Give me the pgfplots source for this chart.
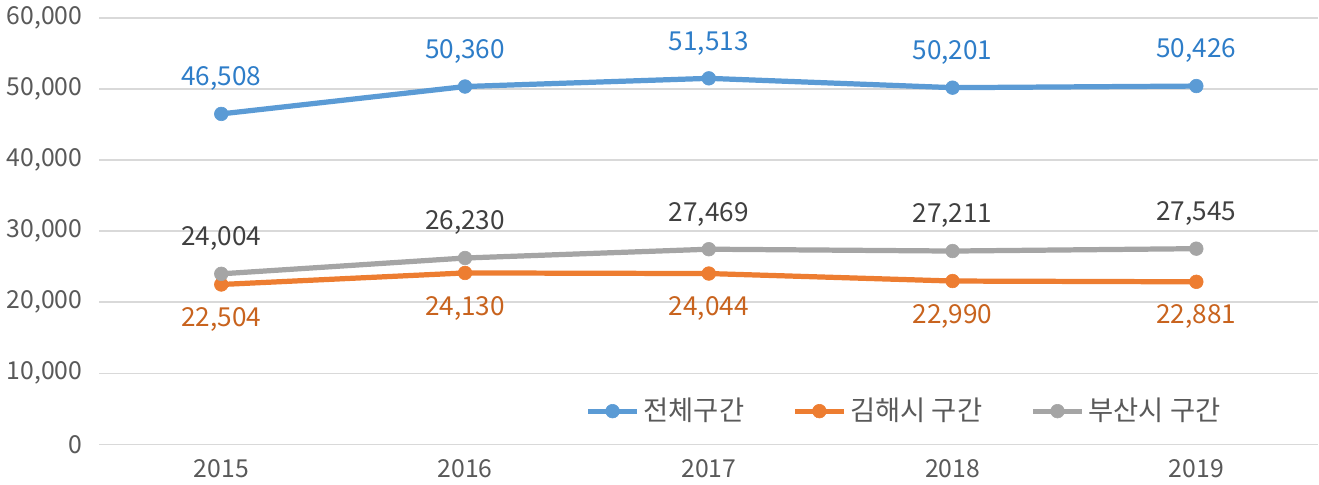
\documentclass[border=0pt]{standalone}
\usepackage{pgfplots}
\pgfplotsset{compat=1.18}
\usepackage{fontspec}
\setmainfont{Noto Sans CJK KR}
\definecolor{cblue}{HTML}{5B9BD5}
\definecolor{corange}{HTML}{ED7D31}
\definecolor{cgray}{HTML}{A5A5A5}
\definecolor{lblue}{HTML}{2E7DC8}
\definecolor{lorange}{HTML}{C8631E}
\definecolor{lgray}{HTML}{404040}
\definecolor{tickc}{HTML}{595959}
\begin{document}
\begin{tikzpicture}
\begin{axis}[
  scale only axis,
  width=606pt, height=212pt,
  xmin=-0.5, xmax=4.5,
  ymin=0, ymax=60000,
  ytick={0,10000,...,60000},
  xtick={0,1,2,3,4},
  xticklabels={2015,2016,2017,2018,2019},
  axis line style={draw=none},
  tick style={draw=none},
  ymajorgrids,
  grid style={draw=black!15, line width=0.8pt},
  /pgf/number format/1000 sep={,},
  /pgf/number format/assume math mode=true,
  ticklabel style={font=\fontsize{12.3}{14}\selectfont, text=tickc},
  scaled y ticks=false,
  yticklabel style={xshift=-5pt},
  xticklabel style={yshift=-4pt},
  legend columns=3,
  legend style={draw=none, fill=none, at={(0.661,0.078)}, anchor=center,
    font=\fontsize{13.6}{15}\selectfont, text=tickc,
    /tikz/every even column/.append style={column sep=22pt}},
  legend image code/.code={
    \draw[#1, mark=none] (0cm,0cm) -- (0.85cm,0cm);
    \draw[#1, only marks] plot coordinates {(0.425cm,0cm)};
  },
  nodes near coords,
  nodes near coords style={font=\fontsize{13}{15}\selectfont,
    /pgf/number format/fixed, /pgf/number format/precision=0,
    /pgf/number format/1000 sep={,}, /pgf/number format/assume math mode=true},
  every axis plot/.append style={line width=2.6pt, mark=*, mark size=3.4pt},
]
\addplot[cblue, mark options={fill=cblue, draw=cblue, line width=0.3pt},
  nodes near coords style={text=lblue, anchor=south, yshift=8pt}]
  coordinates {(0,46508) (1,50360) (2,51513) (3,50201) (4,50426)};
\addlegendentry{전체구간}
\addplot[corange, mark options={fill=corange, draw=corange, line width=0.3pt},
  nodes near coords style={text=lorange, anchor=north, yshift=-8pt}]
  coordinates {(0,22504) (1,24130) (2,24044) (3,22990) (4,22881)};
\addlegendentry{김해시 구간}
\addplot[cgray, mark options={fill=cgray, draw=cgray, line width=0.3pt},
  nodes near coords style={text=lgray, anchor=south, yshift=8pt}]
  coordinates {(0,24004) (1,26230) (2,27469) (3,27211) (4,27545)};
\addlegendentry{부산시 구간}
\end{axis}
\end{tikzpicture}
\end{document}
